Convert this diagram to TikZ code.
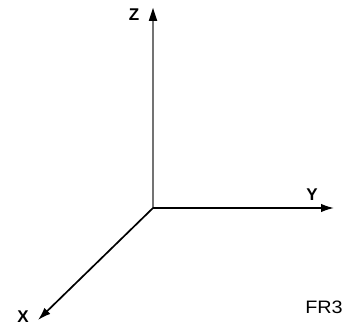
\documentclass[tikz,border=0pt]{standalone}
\usepackage{fontspec}
\setmainfont{Liberation Sans}
\usetikzlibrary{arrows.meta}
\begin{document}
\begin{tikzpicture}[x=1pt,y=1pt,
  axis/.style={line width=1.7pt,-{Latex[length=13pt,width=8.5pt]}},
  lab/.style={font=\bfseries\fontsize{17}{19}\selectfont,inner sep=0pt}]
\useasboundingbox (0,0) rectangle (344,329);
\coordinate (O) at (153,121);
\coordinate (Zt) at (153,321);
\coordinate (Yt) at (334,121);
\coordinate (Xt) at (38,9);
\draw[axis,draw=black!55] (O) -- (Zt);
\fill (Zt) -- ++(-4.25,-13) -- ++(8.5,0) -- cycle;
\draw[axis] (O) -- (Yt);
\draw[axis] (O) -- (Xt);
\node[lab] (zl) at (134,314) {Z};
\node[lab] (yl) at (312,134) {Y};
\node[lab] (xl) at (23,12) {X};
\node[font=\fontsize{18}{20}\selectfont,inner sep=0pt,xscale=1.1,transform shape] (fr) at (324,22) {FR3};
\end{tikzpicture}
\end{document}
